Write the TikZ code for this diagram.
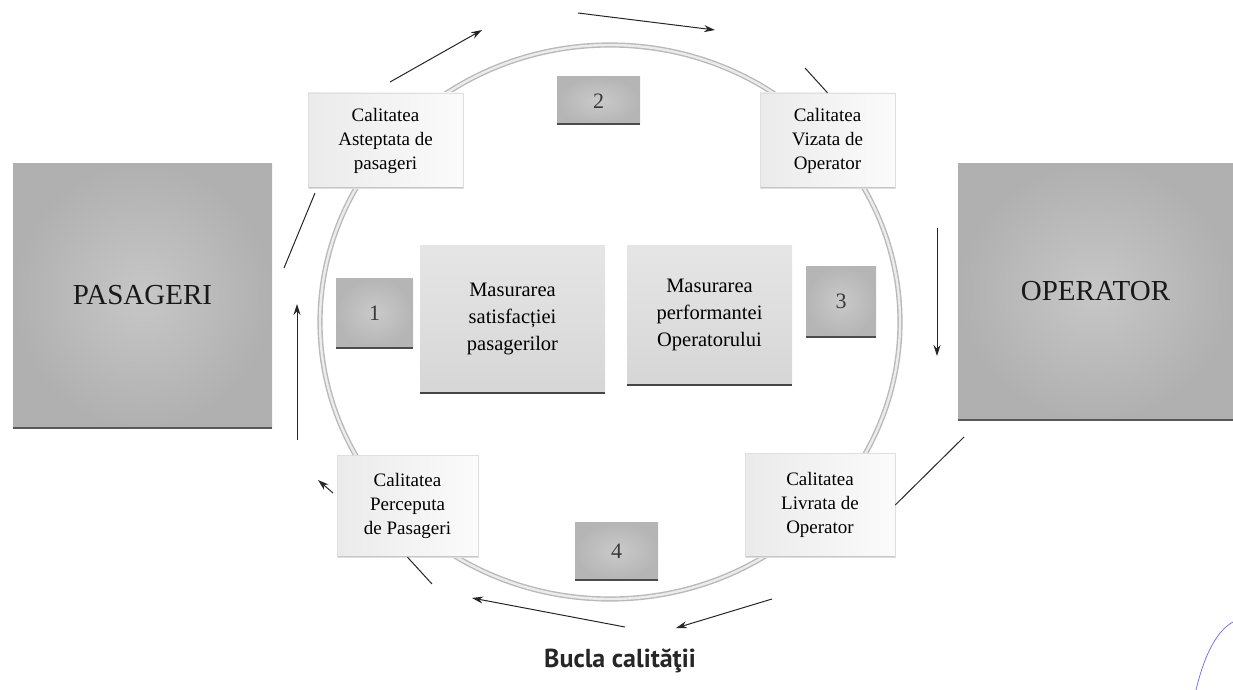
\documentclass[tikz,border=0pt]{standalone}
\usepackage{fontspec}
\setmainfont{Liberation Serif}
\newfontfamily\titlefont{PT Sans}
\usetikzlibrary{arrows.meta}

\tikzset{
    bottomedge/.style={path picture={\draw[#1,line width=3pt] (path picture bounding box.south west) -- (path picture bounding box.south east);}},
    bigbox/.style={inner color=gray!44, outer color=gray!62, bottomedge=gray!70!black,
        inner sep=0pt, font=\fontsize{29}{34}\selectfont, text=black!90},
    qualbox/.style={left color=gray!16, right color=gray!3, draw=gray!25, bottomedge=gray!45,
        inner sep=0pt, align=center, font=\fontsize{19}{24}\selectfont, text=black},
    nrbox/.style={inner color=gray!42, outer color=gray!58, bottomedge=gray!60!black,
        inner sep=0pt, font=\fontsize{22}{24}\selectfont, text=gray!45!black},
    measbox/.style={top color=gray!20, bottom color=gray!32, bottomedge=gray!55!black,
        inner sep=0pt, align=center, font=\fontsize{20.5}{27}\selectfont, text=black},
    ring/.style={draw=gray!55, double=gray!15, double distance=2.4pt, line width=1.4pt},
    flow/.style={gray!30!black, line width=1pt},
}

\begin{document}
\begin{tikzpicture}[x=1pt,y=-1pt,>={Stealth[length=11pt,width=7pt]}]
    \useasboundingbox (0,0) rectangle (1233,690);

    % La bucle
    \draw[ring] (610,322) ellipse [x radius=290pt, y radius=277pt];

    % Les deux parties
    \node[bigbox, minimum width=259pt, minimum height=265pt] (pasageri) at (142.5,295.5) {PASAGERI};
    \node[bigbox, minimum width=275pt, minimum height=257pt] (operator) at (1095.5,291.5) {OPERATOR};

    % Les quatre qualites
    \node[qualbox, minimum width=155pt, minimum height=95pt] (asteptata) at (385.5,140.5) {Calitatea\\Asteptata de\\pasageri};
    \node[qualbox, minimum width=135pt, minimum height=95pt] (vizata) at (827.5,140.5) {Calitatea\\Vizata de\\Operator};
    \node[qualbox, minimum width=141pt, minimum height=102pt] (perceputa) at (407.5,506) {Calitatea\\Perceputa\\de Pasageri};
    \node[qualbox, minimum width=150pt, minimum height=104pt] (livrata) at (820,505) {Calitatea\\Livrata de\\Operator};

    % Les numeros
    \node[nrbox, minimum width=77pt, minimum height=70pt] (nr1) at (374.5,313) {1};
    \node[nrbox, minimum width=83pt, minimum height=48pt] (nr2) at (598.5,101) {2};
    \node[nrbox, minimum width=70pt, minimum height=71pt] (nr3) at (841,301.5) {3};
    \node[nrbox, minimum width=83pt, minimum height=58pt] (nr4) at (616.5,551) {4};

    % Les mesures
    \node[measbox, minimum width=185pt, minimum height=148pt] (satisf) at (512.5,319) {Masurarea\\satisfacției\\pasagerilor};
    \node[measbox, minimum width=165pt, minimum height=140pt] (perform) at (709.5,315) {Masurarea\\performantei\\Operatorului};

    % Extremites des fleches
    \coordinate (f1a) at (390,82);  \coordinate (f1b) at (482,30);
    \coordinate (f2a) at (578,13);  \coordinate (f2b) at (715,30);
    \coordinate (f3a) at (805,68);
    \coordinate (f4a) at (937,228); \coordinate (f4b) at (937,356);
    \coordinate (f5a) at (964,437);
    \coordinate (f6a) at (772,599); \coordinate (f6b) at (676,628);
    \coordinate (f7a) at (625,627); \coordinate (f7b) at (472,598);
    \coordinate (f8a) at (432,584);
    \coordinate (f9a) at (333,493); \coordinate (f9b) at (318,480);
    \coordinate (f10a) at (297,440); \coordinate (f10b) at (297,304);
    \coordinate (f11a) at (284,268); \coordinate (f11b) at (315,193);

    % Les fleches autour de la bucle
    \draw[flow,->] (f1a) -- (f1b);
    \draw[flow,->] (f2a) -- (f2b);
    \draw[flow] (f3a) -- (vizata.north);
    \draw[flow,->] (f4a) -- (f4b);
    \draw[flow] (f5a) -- (livrata.east);
    \draw[flow,->] (f6a) -- (f6b);
    \draw[flow,->] (f7a) -- (f7b);
    \draw[flow] (f8a) -- (perceputa.south);
    \draw[flow,->] (f9a) -- (f9b);
    \draw[flow,->] (f10a) -- (f10b);
    \draw[flow] (f11a) -- (f11b);

    % Titre
    \node[font=\titlefont\bfseries\fontsize{26}{30}\selectfont, text=black!85] (titlu) at (620,661) {Bucla calităţii};

    % Trait bleu
    \draw[blue!55, line width=0.8pt] (1196,690) .. controls (1205,652) and (1218,630) .. (1233,622);
\end{tikzpicture}
\end{document}
